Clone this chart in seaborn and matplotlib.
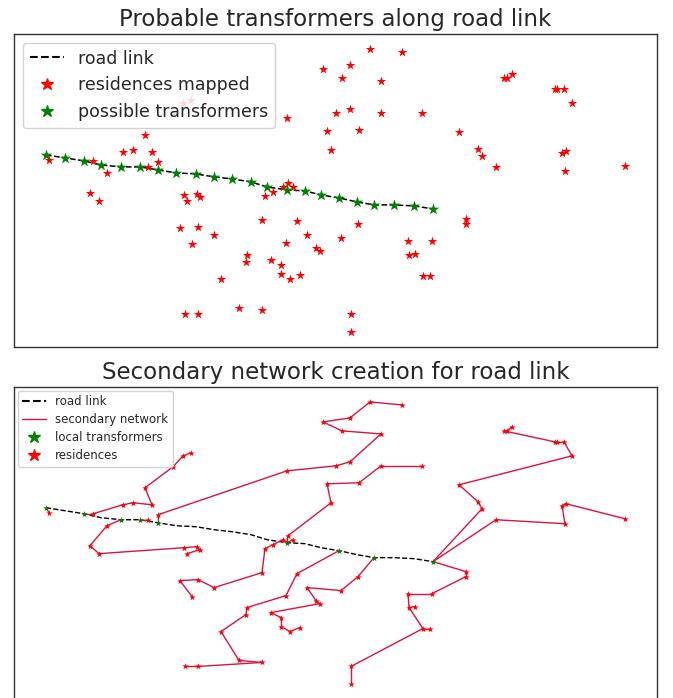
import matplotlib
matplotlib.use('Agg')

import pandas as pd
import matplotlib.pyplot as plt
from matplotlib.lines import Line2D
import seaborn as sns

# Residence positions (map units, y grows downward)
res_x = [49, 93, 107, 123, 133, 152, 145, 158, 148, 173, 183, 191,
         90, 99, 184, 187, 197, 200, 180, 198, 214, 192,
         265, 273, 288, 283, 293, 262, 297, 307, 286, 316, 320,
         247, 246, 271, 281, 281, 290, 300, 221, 239, 262, 185, 198,
         287, 323, 327, 331, 370, 402, 350, 342, 381, 336, 350, 381, 422, 359,
         504, 507, 512, 555, 557, 564, 572, 459, 478, 482, 496, 562, 566, 565, 625,
         358, 341, 408, 432, 409, 415, 423, 430, 466, 466, 351, 351]
res_y = [160, 161, 173, 152, 150, 152, 135, 162, 167, 114, 103, 100,
         193, 201, 195, 201, 194, 197, 228, 227, 235, 244,
         196, 192, 183, 187, 187, 220, 221, 235, 243, 248, 251,
         255, 262, 260, 265, 274, 279, 275, 279, 308, 310, 314, 314,
         118, 69, 131, 150, 49, 52, 65, 78, 81, 113, 109, 113, 113, 130,
         78, 78, 74, 89, 89, 89, 103, 132, 149, 156, 167, 153, 151, 171, 166,
         224, 238, 241, 241, 255, 254, 276, 276, 219, 224, 314, 332]

# Possible transformers along the road link
tr_x = [46, 65, 84, 101, 121, 140, 158, 176, 196, 214, 232,
        251, 267, 287, 305, 321, 339, 357, 374, 394, 414, 433]
tr_y = [155, 158, 161, 165, 167, 167, 170, 173, 174, 177, 179,
        182, 187, 190, 191, 195, 198, 202, 205, 205, 206, 209]

# Transformers kept for the secondary network
local_idx = [0, 2, 4, 5, 6, 13, 16, 18, 21]

# Secondary network edges (T = transformer, R = residence, 1-based)
edges = [
    "T0-R1", "T2-R2", "R2-R4", "R4-R5", "R5-R6", "R6-R7", "R7-R10", "R10-R11", "R11-R12",
    "T4-R3", "R3-R13", "R13-R14", "R14-R15", "R15-R17", "R17-R18", "R18-R16",
    "T5-R9",
    "T6-R8", "R8-R46", "R46-R55", "R55-R56", "R56-R54", "R54-R53", "R53-R47",
    "R47-R52", "R52-R50", "R50-R51",
    "T13-R25", "R25-R49", "R49-R48", "R48-R59", "R59-R57", "R57-R58",
    "T13-R26", "T13-R27", "R26-R24", "R24-R23", "R23-R28", "R28-R21", "R21-R20",
    "R20-R19", "R19-R22",
    "T16-R29", "R29-R31", "R31-R34", "R34-R35", "R35-R41", "R41-R42", "R42-R43",
    "R43-R45", "R45-R44",
    "T18-R75", "R75-R76", "R76-R30", "R30-R32", "R32-R33", "R33-R36", "R36-R37",
    "R37-R38", "R38-R39", "R39-R40",
    "T21-R69", "R69-R68", "R68-R67", "R67-R66", "R66-R65", "R65-R64", "R64-R63",
    "R63-R60", "R60-R61", "R61-R62",
    "T21-R70", "R70-R73", "R73-R71", "R71-R72", "R72-R74",
    "T21-R83", "R83-R84", "R84-R78", "R78-R77", "R77-R79", "R79-R80", "R79-R81",
    "R81-R82", "R81-R85", "R85-R86",
]


def node_xy(name):
    i = int(name[1:])
    if name[0] == 'T':
        return tr_x[i], tr_y[i]
    return res_x[i - 1], res_y[i - 1]


res_df = pd.DataFrame({'x': res_x, 'y': res_y})
tr_df = pd.DataFrame({'x': tr_x, 'y': tr_y})
local_df = tr_df.iloc[local_idx]

rows = []
for k, e in enumerate(edges):
    a, b = e.split('-')
    for n in (a, b):
        x, y = node_xy(n)
        rows.append({'edge': k, 'x': x, 'y': y})
net_df = pd.DataFrame(rows)

sns.set_style('white')
plt.rcParams['font.family'] = ['DejaVu Sans']

fig = plt.figure(figsize=(6.73, 6.98), dpi=100)
ax1 = fig.add_axes([0.0208, 0.503, 0.9554, 0.4484])
ax2 = fig.add_axes([0.0208, -0.002, 0.9554, 0.4476])

# Top panel
ax1.plot(tr_df['x'], tr_df['y'], 'k--', lw=1.1, zorder=1)
sns.scatterplot(data=res_df, x='x', y='y', marker='*', color='red', s=50,
                linewidth=0, ax=ax1, zorder=2)
sns.scatterplot(data=tr_df, x='x', y='y', marker='*', color='green', s=75,
                linewidth=0, ax=ax1, zorder=3)
ax1.set_title('Probable transformers along road link', fontsize=16.5)
h1 = [Line2D([], [], color='k', ls='--', lw=1.5),
      Line2D([], [], ls='', marker='*', color='red', ms=9),
      Line2D([], [], ls='', marker='*', color='green', ms=9)]
ax1.legend(h1, ['road link', 'residences mapped', 'possible transformers'],
           loc='upper left', fontsize=12.5, framealpha=0.85)

# Bottom panel
ax2.plot(tr_df['x'], tr_df['y'], 'k--', lw=1.0, zorder=1)
sns.lineplot(data=net_df, x='x', y='y', units='edge', estimator=None, sort=False,
             color='crimson', lw=1.0, ax=ax2, zorder=2)
sns.scatterplot(data=local_df, x='x', y='y', marker='*', color='green', s=24,
                linewidth=0, ax=ax2, zorder=3)
sns.scatterplot(data=res_df, x='x', y='y', marker='*', color='red', s=24,
                linewidth=0, ax=ax2, zorder=4)
ax2.set_title('Secondary network creation for road link', fontsize=16.5)
h2 = [Line2D([], [], color='k', ls='--', lw=1.5),
      Line2D([], [], color='crimson', lw=1.0),
      Line2D([], [], ls='', marker='*', color='green', ms=9),
      Line2D([], [], ls='', marker='*', color='red', ms=9)]
ax2.legend(h2, ['road link', 'secondary network', 'local transformers', 'residences'],
           loc='upper left', fontsize=8.5, labelspacing=0.42, framealpha=0.85,
           borderaxespad=0.3)

for ax in (ax1, ax2):
    ax.set_xlim(14, 657)
    ax.set_ylim(347, 34)
    ax.set_xticks([])
    ax.set_yticks([])
    ax.set_xlabel('')
    ax.set_ylabel('')
    for sp in ax.spines.values():
        sp.set_color('#333333')
        sp.set_linewidth(1.0)

fig.savefig('out.png', dpi=100)
plt.close(fig)
